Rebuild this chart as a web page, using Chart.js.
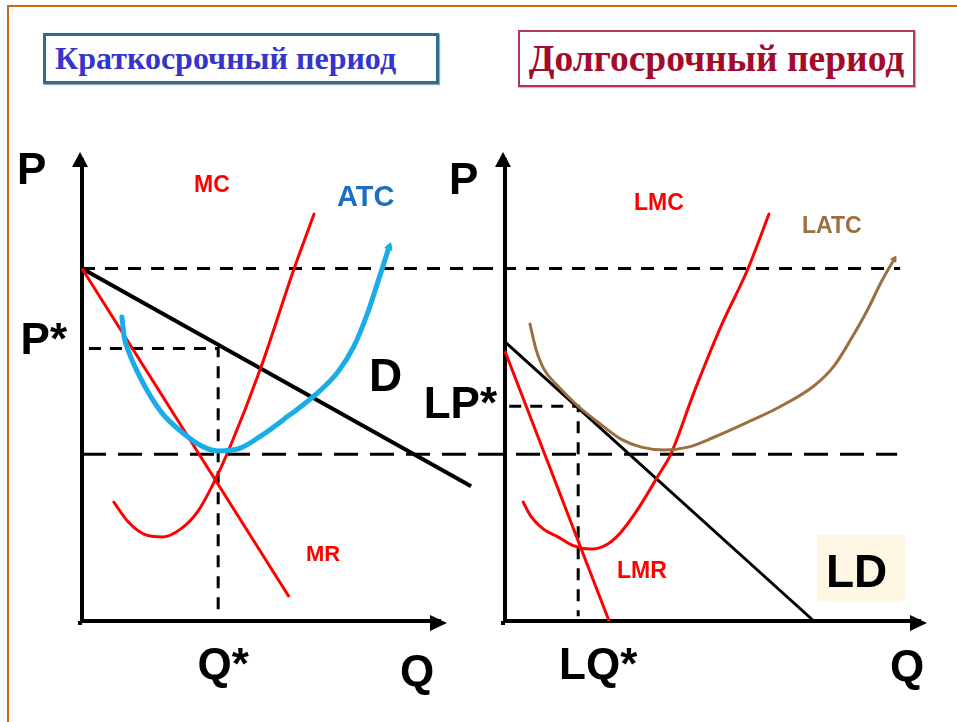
<!DOCTYPE html>
<html><head><meta charset="utf-8">
<script src="https://cdn.jsdelivr.net/npm/chart.js@4.4.1/dist/chart.umd.min.js"></script>
<style>
html,body{margin:0;padding:0;background:#fff;}
body{width:957px;height:722px;position:relative;overflow:hidden;font-family:"Liberation Sans",Arial,sans-serif;}
#frameTop{position:absolute;left:7px;top:5px;width:950px;height:2px;background:#c8691c;}
#frameLeft{position:absolute;left:7px;top:5px;width:2px;height:717px;background:#c8691c;}
canvas{position:absolute;top:0;}
#c1{left:0;}
#c2{left:400px;}
.t{position:absolute;line-height:1;font-weight:bold;white-space:nowrap;font-family:"Liberation Sans",Arial,sans-serif;}
.box{position:absolute;box-sizing:border-box;font-family:"Liberation Serif","Times New Roman",serif;font-weight:bold;display:flex;align-items:center;white-space:nowrap;}
#title1{left:43px;top:33px;width:396px;height:51px;border:3px solid #2f6d8c;color:#3535cc;font-size:32px;box-shadow:1px 1px 1px #9ab;justify-content:flex-start;padding-left:9px;}
#title2{left:518px;top:30px;width:397px;height:57px;border:2px solid #b3384f;color:#a30b2b;font-size:37.5px;box-shadow:1px 1px 1px #dab;justify-content:center;}
#ldbox{position:absolute;left:817px;top:535px;width:88px;height:67px;background:#fdf7e4;}
</style></head>
<body>
<div id="frameTop"></div><div id="frameLeft"></div>
<div id="title1" class="box">Краткосрочный период</div>
<div id="title2" class="box">Долгосрочный период</div>
<div id="ldbox"></div>
<canvas id="c1" width="480" height="722"></canvas>
<canvas id="c2" width="557" height="722"></canvas>
<div class="t" style="left:17px;top:147px;font-size:44px;color:#000">P</div>
<div class="t" style="left:449px;top:157px;font-size:44px;color:#000">P</div>
<div class="t" style="left:400px;top:649px;font-size:44px;color:#000">Q</div>
<div class="t" style="left:890px;top:644px;font-size:44px;color:#000">Q</div>
<div class="t" style="left:369px;top:352px;font-size:46px;color:#000">D</div>
<div class="t" style="left:826px;top:548px;font-size:46px;color:#000">LD</div>
<div class="t" style="left:194px;top:173px;font-size:23px;color:#ff0000">MC</div>
<div class="t" style="left:337px;top:182px;font-size:29px;color:#1c6fc0">ATC</div>
<div class="t" style="left:306px;top:543px;font-size:22px;color:#ff0000">MR</div>
<div class="t" style="left:634px;top:191px;font-size:23px;color:#ff0000">LMC</div>
<div class="t" style="left:802px;top:214px;font-size:23px;color:#9b6f3f">LATC</div>
<div class="t" style="left:617px;top:559px;font-size:23px;color:#ff0000">LMR</div>
<script>
// ---- Short-run panel (Краткосрочный период) ----
const SR_LEVEL_HIGH = 7.5;   // upper dashed level
const SR_LEVEL_LOW = 3.55;   // lower dashed level (min ATC)
const SR_PSTAR = 5.8;
const SR_QSTAR = 3.72;
const SR_D_Q = [0, 10.63];
const SR_D_P = [7.5, 2.87];
const SR_MR_Q = [0, 5.66];
const SR_MR_P = [7.5, 0.51];
const SR_MC_Q = [0.87, 1.26, 1.69, 2.21, 2.70, 3.17, 3.61, 4.02, 4.89, 5.79, 6.34];
const SR_MC_P = [2.53, 2.11, 1.85, 1.79, 1.96, 2.34, 2.96, 3.66, 5.40, 7.49, 8.66];
const SR_ATC_Q = [1.09, 1.15, 1.28, 1.61, 2.16, 2.79, 3.33, 3.72, 4.26, 4.89, 5.63, 6.34, 6.99, 7.43, 7.81, 8.11, 8.39];
const SR_ATC_P = [6.47, 6.06, 5.72, 5.15, 4.45, 3.98, 3.70, 3.62, 3.66, 3.94, 4.36, 4.79, 5.30, 5.85, 6.57, 7.28, 7.96];
const SR_Y_TICKS = [SR_PSTAR], SR_Y_LABELS = ['P*'];
const SR_X_TICKS = [SR_QSTAR], SR_X_LABELS = ['Q*'];

// ---- Long-run panel (Долгосрочный период) ----
const LR_LEVEL_HIGH = 7.5;
const LR_LEVEL_LOW = 3.55;
const LR_PSTAR = 4.57;
const LR_QSTAR = 1.73;
const LR_D_Q = [0, 7.30];
const LR_D_P = [5.94, 0];
const LR_MR_Q = [0, 2.46];
const LR_MR_P = [5.74, 0];
const LR_MC_Q = [0.43, 0.61, 0.90, 1.25, 1.63, 2.03, 2.43, 2.74, 3.14, 3.62, 3.92, 4.47, 5.11, 5.74, 6.24];
const LR_MC_P = [2.53, 2.23, 1.96, 1.79, 1.60, 1.53, 1.64, 1.89, 2.38, 3.09, 3.55, 4.87, 6.28, 7.49, 8.66];
const LR_ATC_Q = [0.59, 0.73, 0.92, 1.25, 1.73, 2.20, 2.74, 3.22, 3.76, 4.33, 4.94, 5.74, 6.52, 7.30, 7.78, 8.18, 8.58, 8.89, 9.20];
const LR_ATC_P = [6.32, 5.79, 5.36, 5.00, 4.57, 4.23, 3.87, 3.70, 3.64, 3.70, 3.91, 4.23, 4.57, 5.00, 5.43, 6.00, 6.64, 7.21, 7.70];
const LR_Y_TICKS = [LR_PSTAR], LR_Y_LABELS = ['LP*'];
const LR_X_TICKS = [LR_QSTAR], LR_X_LABELS = ['LQ*'];

const pts = (q, p) => q.map((v, i) => ({x: v, y: p[i]}));
const RED = '#ff0000';

function lineDs(data, color, width, extra) {
  return Object.assign({data, borderColor: color, backgroundColor: color, borderWidth: width,
    pointRadius: 0, fill: false, clip: false, tension: 0}, extra || {});
}
function curveDs(q, p, color, width, arrowRot, arrowR) {
  const r = q.map((v, i) => i === q.length - 1 ? arrowR : 0);
  return lineDs(pts(q, p), color, width, {cubicInterpolationMode: 'monotone', pointRadius: arrowRot == null ? 0 : r,
    pointStyle: 'triangle', rotation: arrowRot || 0, pointBorderWidth: 1, borderCapStyle: 'round'});
}

const arrowPlugin = {
  id: 'axisArrows',
  afterDraw(chart) {
    const {ctx, chartArea: a} = chart;
    const ax = chart.scales.y.right - 2;
    const ay = chart.scales.x.top + 2;
    ctx.save();
    ctx.fillStyle = '#000';
    ctx.fillRect(ax - 2, ay - 2, 4, 4);
    ctx.beginPath();
    ctx.moveTo(ax, a.top - 8); ctx.lineTo(ax - 8, a.top + 7); ctx.lineTo(ax + 8, a.top + 7); ctx.closePath(); ctx.fill();
    ctx.beginPath();
    ctx.moveTo(a.right + 7, ay); ctx.lineTo(a.right - 10, ay - 8); ctx.lineTo(a.right - 10, ay + 8); ctx.closePath(); ctx.fill();
    ctx.restore();
  }
};

function axes(xMax, yMax, yWidth, xTicks, xLabels, yTicks, yLabels, yPad, yOff, xOff) {
  const font = {family: '"Liberation Sans", Arial, sans-serif', size: 44, weight: 'bold'};
  return {
    x: {type: 'linear', min: 0, max: xMax,
      afterFit(s) { s.height = 101; },
      afterBuildTicks(s) { s.ticks = xTicks.map(v => ({value: v})); },
      grid: {display: false, drawTicks: false},
      border: {display: true, color: '#000', width: 4},
      ticks: {autoSkip: false, maxRotation: 0, padding: 19, labelOffset: xOff, color: '#000', font,
        callback: (v, i) => xLabels[i]}},
    y: {type: 'linear', min: 0, max: yMax,
      afterFit(s) { s.width = yWidth; },
      afterBuildTicks(s) { s.ticks = yTicks.map(v => ({value: v})); },
      grid: {display: false, drawTicks: false},
      border: {display: true, color: '#000', width: 4},
      ticks: {autoSkip: false, padding: yPad, labelOffset: yOff, color: '#000', font,
        callback: (v, i) => yLabels[i]}}
  };
}

const common = {
  responsive: false, animation: false, devicePixelRatio: 1,
  plugins: {legend: {display: false}, tooltip: {enabled: false}, title: {display: false}},
  events: []
};

new Chart(document.getElementById('c1'), {
  type: 'line',
  data: {datasets: [
    curveDs(SR_ATC_Q, SR_ATC_P, '#19ade8', 5, 20, 4.5),
    curveDs(SR_MC_Q, SR_MC_P, RED, 3),
    lineDs(pts(SR_MR_Q, SR_MR_P), RED, 3),
    lineDs(pts(SR_D_Q, SR_D_P), '#000', 4),
    lineDs(pts([0.19, SR_QSTAR, SR_QSTAR], [SR_PSTAR, SR_PSTAR, 0.2]), '#000', 3, {borderDash: [12, 9]}),
    lineDs(pts([0, 10.9], [SR_LEVEL_LOW, SR_LEVEL_LOW]), '#000', 3, {borderDash: [24, 12]}),
    lineDs(pts([0, 10.9], [SR_LEVEL_HIGH, SR_LEVEL_HIGH]), '#000', 3, {borderDash: [13, 10]})
  ]},
  options: Object.assign({}, common, {
    layout: {padding: {top: 160, right: 40, left: 0, bottom: 0}},
    scales: axes(9.78, 9.81, 82, SR_X_TICKS, SR_X_LABELS, SR_Y_TICKS, SR_Y_LABELS, 15, -7, 5)
  }),
  plugins: [arrowPlugin]
});

new Chart(document.getElementById('c2'), {
  type: 'line',
  data: {datasets: [
    curveDs(LR_ATC_Q, LR_ATC_P, '#9b6f3f', 3, 30, 3.5),
    curveDs(LR_MC_Q, LR_MC_P, RED, 3),
    lineDs(pts(LR_MR_Q, LR_MR_P), RED, 3),
    lineDs(pts(LR_D_Q, LR_D_P), '#000', 3),
    lineDs(pts([0.1, LR_QSTAR, LR_QSTAR], [LR_PSTAR, LR_PSTAR, 0.1]), '#000', 3, {borderDash: [12, 9]}),
    lineDs(pts([-0.59, 9.27], [LR_LEVEL_LOW, LR_LEVEL_LOW]), '#000', 3, {borderDash: [24, 12]}),
    lineDs(pts([-0.59, 9.34], [LR_LEVEL_HIGH, LR_LEVEL_HIGH]), '#000', 3, {borderDash: [13, 10]})
  ]},
  options: Object.assign({}, common, {
    layout: {padding: {top: 160, right: 37, left: 0, bottom: 0}},
    scales: axes(9.81, 9.81, 105, LR_X_TICKS, LR_X_LABELS, LR_Y_TICKS, LR_Y_LABELS, 8, 0, 20)
  }),
  plugins: [arrowPlugin]
});
</script>
</body></html>
